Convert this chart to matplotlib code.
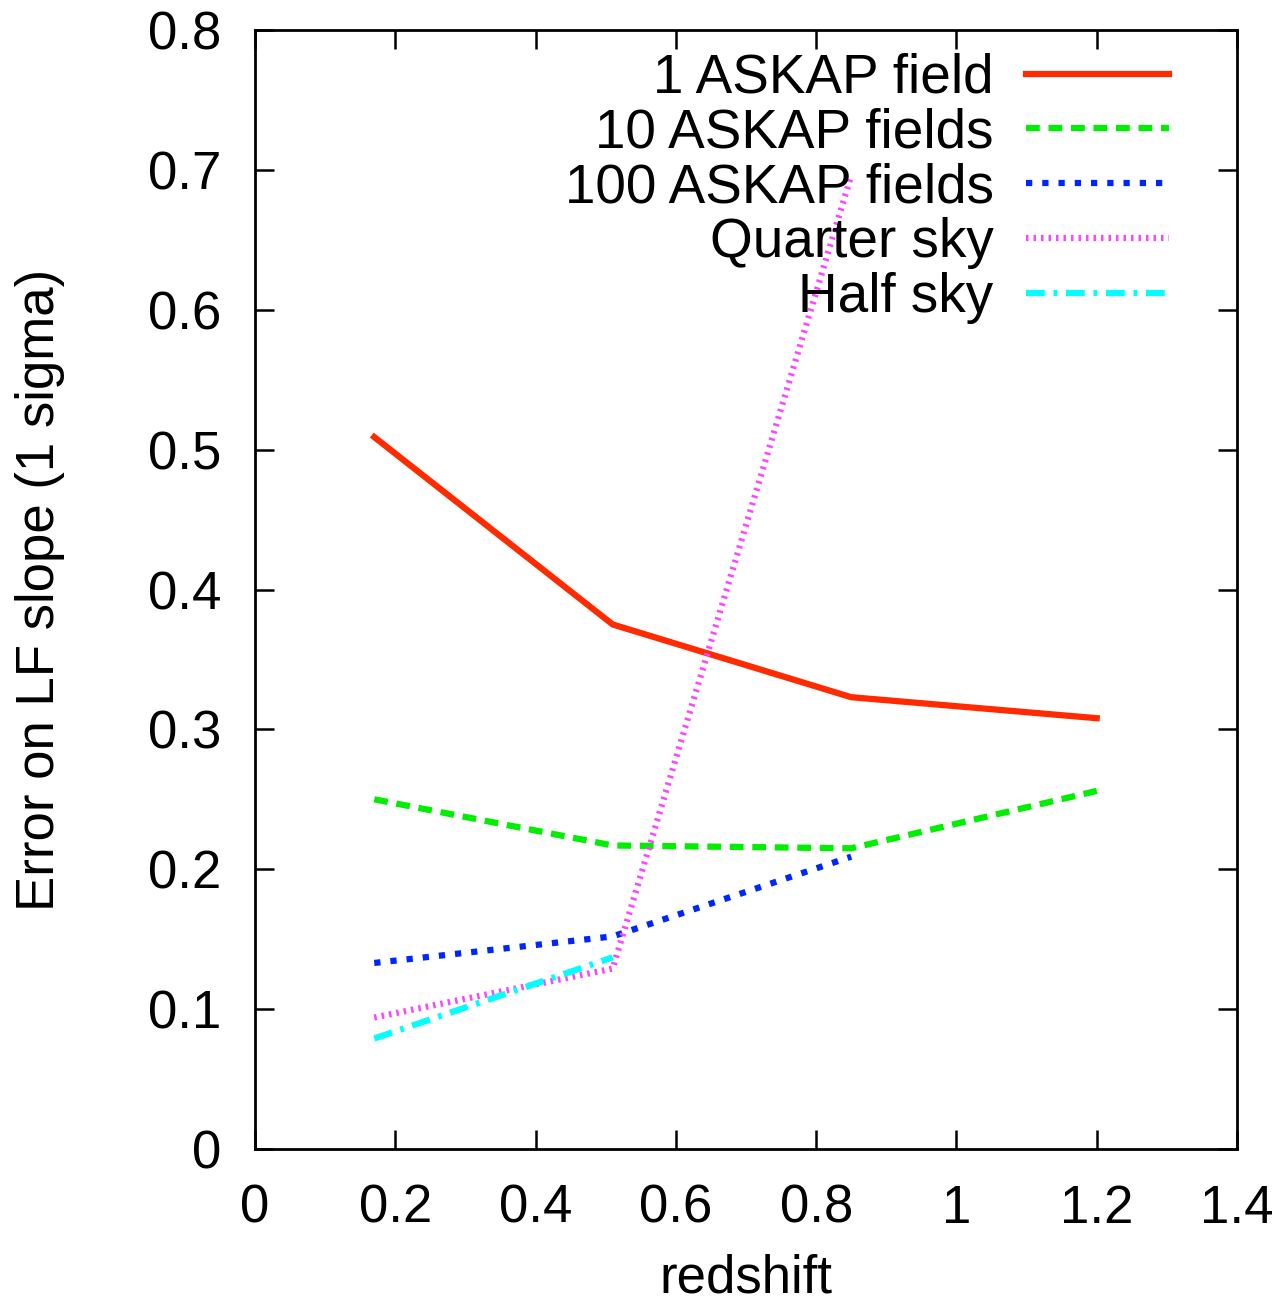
import matplotlib.pyplot as plt
import numpy as np

plt.rcParams['font.family'] = ['Liberation Sans', 'DejaVu Sans']

# redshift bins
z = [0.17, 0.51, 0.85, 1.2]

one_field = [0.509, 0.375, 0.323, 0.308]
ten_fields = [0.250, 0.217, 0.215, 0.256]
hundred_fields = [0.133, 0.152, 0.209]
quarter_sky = [0.094, 0.129, 0.696]
half_sky = [0.079, 0.137]

labels = ["1 ASKAP field", "10 ASKAP fields", "100 ASKAP fields",
          "Quarter sky", "Half sky"]

fig = plt.figure(figsize=(12.83, 13.03), dpi=100)
ax = fig.add_axes([255 / 1283, 1 - 1149 / 1303, 982 / 1283, 1119 / 1303])

lw = 4.5
ax.plot(z, one_field, color="#ff2a00", lw=lw, label=labels[0])
ax.plot(z, ten_fields, color="#00ee00", lw=lw, dashes=(2.2, 1.4), label=labels[1])
ax.plot(z[:3], hundred_fields, color="#0026ff", lw=lw, dashes=(1.0, 1.6), label=labels[2])
ax.plot(z[:3], quarter_sky, color="#ff44ff", lw=lw, dashes=(0.4, 0.8), label=labels[3])
ax.plot(z[:2], half_sky, color="#00ffff", lw=lw, dashes=(3.0, 1.4, 0.6, 1.4), label=labels[4])

ax.set_xlim(0, 1.4)
ax.set_ylim(0, 0.8)
ax.set_xticks(np.arange(0, 1.41, 0.2))
ax.set_xticklabels(["0", "0.2", "0.4", "0.6", "0.8", "1", "1.2", "1.4"])
ax.set_yticks(np.arange(0, 0.81, 0.1))
ax.set_yticklabels(["0", "0.1", "0.2", "0.3", "0.4", "0.5", "0.6", "0.7", "0.8"])

fs = 38
ax.tick_params(direction="in", length=14, width=1.8, top=True, right=True,
               labelsize=fs)
ax.tick_params(axis="x", pad=25)
ax.tick_params(axis="y", pad=24)
for s in ax.spines.values():
    s.set_linewidth(2)

ax.set_xlabel("redshift", fontsize=fs, labelpad=14)
ax.set_ylabel("Error on LF slope (1 sigma)", fontsize=fs, labelpad=60)

ax.legend(loc="upper right", bbox_to_anchor=(0.964, 1.009), frameon=False,
          markerfirst=False, fontsize=39.5, handlelength=2.6,
          handletextpad=0.59, labelspacing=0.05, borderaxespad=0.2)

fig.savefig("out.png", dpi=100)
